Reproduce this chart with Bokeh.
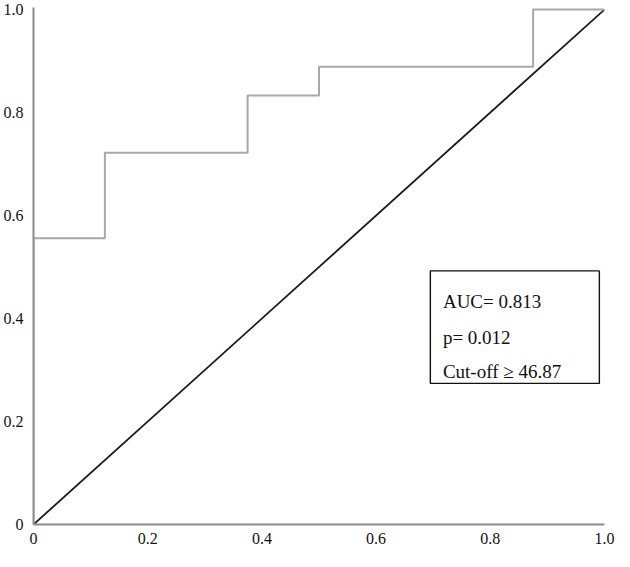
from bokeh.plotting import figure
from bokeh.models import Range1d, FixedTicker, BoxAnnotation, Label
from bokeh.embed import file_html
from bokeh.resources import INLINE

# ROC curve data (false positive rate, true positive rate)
fpr = [0.0, 0.0, 0.125, 0.375, 0.5, 0.875, 1.0]
tpr = [0.0, 0.556, 0.722, 0.833, 0.889, 1.0, 1.0]
ref_x = [0.0, 1.0]
ref_y = [0.0, 1.0]
tick_vals = [0, 0.2, 0.4, 0.6, 0.8, 1.0]
tick_labels = ["0", "0.2", "0.4", "0.6", "0.8", "1.0"]
stats_lines = ["AUC= 0.813", "p= 0.012", "Cut-off \u2265 46.87"]

FONT = "Liberation Serif"

p = figure(frame_width=571, frame_height=517,
           x_range=Range1d(0, 1.0), y_range=Range1d(0, 1.004),
           output_backend="svg", toolbar_location=None,
           min_border_left=31, min_border_right=12, min_border_top=7, min_border_bottom=27)
p.outline_line_color = None
p.grid.visible = False
p.background_fill_color = "white"

for ax in (p.xaxis[0], p.yaxis[0]):
    ax.ticker = FixedTicker(ticks=tick_vals)
    ax.major_label_overrides = {v: l for v, l in zip(tick_vals, tick_labels)}
    ax.major_tick_line_color = None
    ax.minor_tick_line_color = None
    ax.major_tick_out = 0
    ax.major_tick_in = 0
    ax.minor_tick_out = 0
    ax.minor_tick_in = 0
    ax.axis_line_color = "#8c8c8c"
    ax.axis_line_width = 2
    ax.major_label_text_font = FONT
    ax.major_label_text_font_size = "16px"
    ax.major_label_text_color = "#111111"
p.yaxis[0].major_label_standoff = 10
p.xaxis[0].major_label_standoff = 8

p.line(ref_x, ref_y, line_color="#1a1a1a", line_width=1.8)
p.step(fpr, tpr, mode="after", line_color="#a8a8a8", line_width=2)

box = BoxAnnotation(left=0.695, right=0.991, bottom=0.274, top=0.4925,
                    fill_color="white", fill_alpha=0.0,
                    line_color="#111111", line_alpha=1.0, line_width=1.4)
p.add_layout(box)

for txt, yy in zip(stats_lines, [0.433, 0.364, 0.297]):
    p.add_layout(Label(x=0.717, y=yy, text=txt, text_font=FONT,
                       text_font_size="19px", text_color="#111111",
                       text_baseline="alphabetic", text_align="left"))

open("out.html", "w").write(file_html(p, INLINE))
